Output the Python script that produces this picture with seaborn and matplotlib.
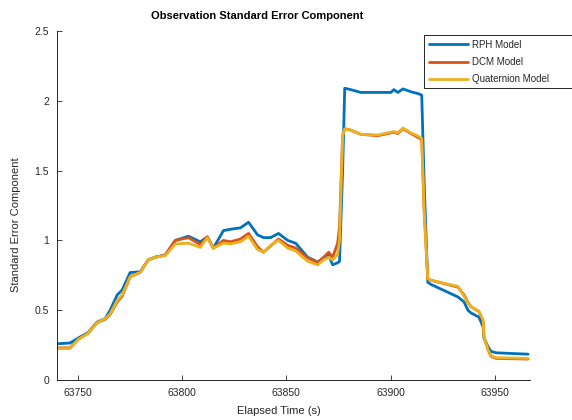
import numpy as np
import pandas as pd
import matplotlib
matplotlib.use("Agg")
import matplotlib.pyplot as plt
from matplotlib.patches import Rectangle
import seaborn as sns

# ---- data ----
time_s = [63740.2, 63746.0, 63749.9, 63754.7, 63759.0, 63762.9, 63765.3, 63768.7,
          63771.1, 63774.9, 63779.7, 63783.6, 63787.0, 63791.8, 63796.6, 63802.9,
          63808.6, 63812.0, 63814.9, 63819.7, 63823.1, 63827.9, 63831.8, 63836.1,
          63839.0, 63842.4, 63846.2, 63850.6, 63854.4, 63860.2, 63865.0, 63867.9,
          63870.3, 63872.2, 63874.6, 63875.5, 63877.0, 63878.0, 63880.9, 63885.7,
          63893.9, 63900.2, 63901.6, 63903.5, 63906.0, 63909.8, 63913.6, 63915.0,
          63916.2, 63917.9, 63919.4, 63932.4, 63935.3, 63937.2, 63938.7, 63942.5,
          63944.5, 63944.9, 63946.9, 63948.3, 63950.7, 63966.1]

rph = [0.26, 0.265, 0.30, 0.34, 0.415, 0.44, 0.50, 0.61,
       0.645, 0.77, 0.775, 0.86, 0.88, 0.895, 1.00, 1.03,
       0.99, 1.025, 0.945, 1.07, 1.08, 1.09, 1.13, 1.04,
       1.02, 1.02, 1.05, 1.00, 0.98, 0.88, 0.845, 0.875,
       0.895, 0.825, 0.84, 0.85, 1.50, 2.09, 2.08, 2.06,
       2.06, 2.06, 2.08, 2.06, 2.085, 2.065, 2.05, 2.04,
       1.40, 0.70, 0.685, 0.595, 0.56, 0.50, 0.48, 0.45,
       0.38, 0.30, 0.237, 0.205, 0.195, 0.185]

dcm = [0.23, 0.23, 0.29, 0.335, 0.41, 0.435, 0.47, 0.56,
       0.60, 0.74, 0.77, 0.86, 0.88, 0.895, 1.00, 1.02,
       0.97, 1.025, 0.945, 1.00, 0.99, 1.01, 1.05, 0.955,
       0.915, 0.96, 1.01, 0.965, 0.945, 0.875, 0.84, 0.88,
       0.915, 0.88, 0.98, 1.10, 1.75, 1.80, 1.79, 1.76,
       1.75, 1.77, 1.775, 1.765, 1.80, 1.765, 1.735, 1.72,
       1.20, 0.725, 0.715, 0.665, 0.61, 0.555, 0.525, 0.49,
       0.42, 0.31, 0.215, 0.17, 0.155, 0.15]

quat = [0.225, 0.225, 0.29, 0.335, 0.41, 0.44, 0.475, 0.57,
        0.61, 0.74, 0.77, 0.86, 0.88, 0.89, 0.975, 0.98,
        0.95, 1.02, 0.945, 0.98, 0.975, 0.99, 1.03, 0.935,
        0.915, 0.965, 1.00, 0.945, 0.925, 0.85, 0.825, 0.86,
        0.88, 0.86, 0.90, 1.00, 1.75, 1.80, 1.79, 1.76,
        1.755, 1.775, 1.78, 1.77, 1.805, 1.77, 1.745, 1.73,
        1.20, 0.725, 0.715, 0.67, 0.60, 0.55, 0.525, 0.49,
        0.43, 0.31, 0.215, 0.175, 0.16, 0.155]

series_names = ["RPH Model", "DCM Model", "Quaternion Model"]
colors = ["#0072BD", "#D95319", "#EDB120"]
x_ticks = [63750, 63800, 63850, 63900, 63950]
y_ticks = [0, 0.5, 1, 1.5, 2, 2.5]
y_tick_labels = ["0", "0.5", "1", "1.5", "2", "2.5"]

df = pd.concat([
    pd.DataFrame({"t": time_s, "v": vals, "model": name})
    for name, vals in zip(series_names, [rph, dcm, quat])
], ignore_index=True)

sns.set_style("ticks")
plt.rcParams["font.family"] = ["Liberation Sans", "DejaVu Sans"]

W, H = 572, 420
fig = plt.figure(figsize=(W / 100, H / 100), dpi=100)
ax = fig.add_axes([0.1005, 0.0952, 0.826, 0.831])

sns.lineplot(data=df, x="t", y="v", hue="model", hue_order=series_names,
             palette=colors, linewidth=2.0, ax=ax, sort=False, estimator=None)

ax.set_xlim(63740, 63967)
ax.set_ylim(0, 2.5)
ax.set_xticks(x_ticks)
ax.set_xticklabels([str(v) for v in x_ticks])
ax.set_yticks(y_ticks)
ax.set_yticklabels(y_tick_labels)
ax.tick_params(direction="in", length=3.5, width=0.6, labelsize=7.5,
               colors="#262626", pad=6)
for s in ["top", "right"]:
    ax.spines[s].set_visible(False)
for s in ["left", "bottom"]:
    ax.spines[s].set_linewidth(0.7)
    ax.spines[s].set_color("#262626")

ax.set_xlabel("")
ax.set_ylabel("")
fig.text(0.488, 0.022, "Elapsed Time (s)", ha="center", va="center",
         fontsize=8, color="#262626")
fig.text(0.028, 0.465, "Standard Error Component", ha="center", va="center",
         rotation=90, fontsize=8, color="#262626")
fig.text(0.449, 0.962, "Observation Standard Error Component", ha="center",
         va="center", fontsize=8, fontweight="bold", color="black")

# legend: box runs off the right edge of the figure as in the reference
handles, labels = ax.get_legend_handles_labels()
if ax.get_legend() is not None:
    ax.get_legend().remove()
box = Rectangle((424 / W, 1 - 88 / H), (600 - 424) / W, 53 / H,
                transform=fig.transFigure, facecolor="white",
                edgecolor="#262626", linewidth=0.7, zorder=3)
fig.patches.append(box)
leg = fig.legend(handles, labels, loc="upper left",
                 bbox_to_anchor=(424 / W, 1 - 35 / H),
                 bbox_transform=fig.transFigure, fontsize=7, frameon=False,
                 handlelength=4.0, labelspacing=0.75, borderpad=0.5,
                 handletextpad=0.4, borderaxespad=0)
leg.set_zorder(5)
for line in leg.get_lines():
    line.set_linewidth(2.0)

fig.savefig("out.png", dpi=100)
